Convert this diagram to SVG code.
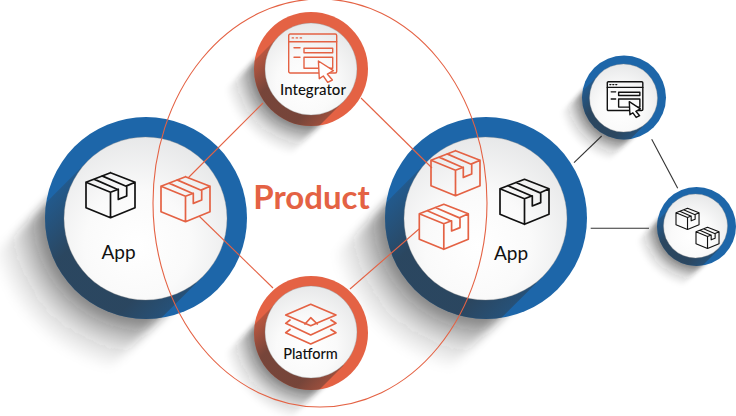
<svg xmlns="http://www.w3.org/2000/svg" width="736" height="416" viewBox="0 0 736 416">
<style>
.blue{fill:#1d66a9}
.org{fill:#e46244}
.inner{fill:url(#face);stroke:#8a8a8a;stroke-opacity:.35;stroke-width:1}
.band{fill:url(#long);clip-path:url(#unit)}
.halo{fill:url(#fade);filter:url(#soft)}
.io{fill:none;stroke:#e46244;stroke-width:1.7;stroke-linejoin:round;stroke-linecap:round}
.ib{fill:none;stroke:#111;stroke-width:1.7;stroke-linejoin:round;stroke-linecap:round}
.conn-o{stroke:#e46244;stroke-width:1.1;fill:none}
.conn-k{stroke:#333;stroke-width:1.1;fill:none}
text{font-family:Lato,"Open Sans","Liberation Sans",sans-serif;text-anchor:middle;fill:#111}
.app{font-size:19px}
.lab{font-size:15px;font-weight:500}
</style>
<defs>
<radialGradient id="face" cx=".45" cy=".66" r=".72">
<stop offset="0" stop-color="#fff"/><stop offset=".45" stop-color="#fafafa"/><stop offset="1" stop-color="#e4e5e6"/>
</radialGradient>
<linearGradient id="long" gradientUnits="userSpaceOnUse" x1="-.8" y1="0" x2=".8" y2="0">
<stop offset="0" stop-color="#333" stop-opacity=".25"/>
<stop offset=".3" stop-color="#333" stop-opacity=".62"/>
<stop offset=".8" stop-color="#333" stop-opacity=".62"/>
<stop offset="1" stop-color="#333" stop-opacity=".42"/>
</linearGradient>
<radialGradient id="fade" gradientUnits="userSpaceOnUse" cx="0" cy="0" r="1.55">
<stop offset=".645" stop-color="#222" stop-opacity=".55"/>
<stop offset=".74" stop-color="#222" stop-opacity=".32"/>
<stop offset=".86" stop-color="#222" stop-opacity=".12"/>
<stop offset="1" stop-color="#222" stop-opacity="0"/>
</radialGradient>
<filter id="soft" x="-.2" y="-.2" width="1.4" height="1.4"><feGaussianBlur stdDeviation=".05"/></filter>
<clipPath id="unit"><circle cx="0" cy="0" r="1"/></clipPath>
<g id="shade">
<rect class="halo" x="-.8" y="0" width="1.6" height="1.6"/>
</g>
<g id="box">
<path d="M24.500 0L49 9.500V35L24.500 45L0 35V9.500L24.500 19.500V45M24.500 19.500L32.300 16.500M40.700 13.200L49 9.500M24.500 0L0 9.500M8 6.400L32.300 17V26.700L40.700 23.300V13.800L16 3.200"/>
</g>
<g id="browser">
<rect x="0" y="0" width="48" height="39" rx="1.500"/>
<path d="M0 7.700H48M3.500 3.900H4.800M7.500 3.900H8.800M11.500 3.900H12.800M5.300 13.700H11.300M5.300 23.300H11.300"/>
<rect x="15.300" y="14.300" width="28.700" height="4.400"/>
<rect x="15.300" y="23.300" width="28.700" height="11"/>
<path style="fill:#fff" d="M29.700 27L44.700 36.700L38.600 40L43.700 46L39 48.300L34.600 42L30.600 44.700Z"/>
</g>
</defs>

<g id="integrator">
<g transform="translate(311 69) rotate(45) scale(57)"><use href="#shade"/></g>
<circle class="org" cx="311" cy="69" r="57"/>
<g transform="translate(311 69) rotate(45) scale(57)"><rect class="band" x="-.807" y="0" width="1.614" height="1.05"/></g>
<circle class="inner" cx="311" cy="69" r="46"/>
<use href="#browser" class="io" style="stroke-width:1.400" transform="translate(288.700 34)"/>
<text class="lab" x="313" y="95">Integrator</text>
</g>

<g id="app-left">
<g transform="translate(146 218) rotate(45) scale(101)"><use href="#shade"/></g>
<circle class="blue" cx="146" cy="218" r="101"/>
<g transform="translate(146 218) rotate(45) scale(101)"><rect class="band" x="-.807" y="0" width="1.614" height="1.05"/></g>
<circle class="inner" cx="145.500" cy="218.500" r="81.500"/>
<use href="#box" class="ib" transform="translate(86 172.700)"/>
<use href="#box" class="io" transform="translate(161 176.700)"/>
<text class="app" x="118.500" y="259">App</text>
</g>

<g id="app-right">
<g transform="translate(486 218) rotate(45) scale(101)"><use href="#shade"/></g>
<circle class="blue" cx="486" cy="218" r="101"/>
<g transform="translate(486 218) rotate(45) scale(101)"><rect class="band" x="-.807" y="0" width="1.614" height="1.05"/></g>
<circle class="inner" cx="485.500" cy="218.500" r="81.500"/>
<use href="#box" class="io" transform="translate(431 150.700)"/>
<use href="#box" class="io" transform="translate(419.300 204.300)"/>
<use href="#box" class="ib" transform="translate(500 179.300)"/>
<text class="app" x="511" y="260">App</text>
</g>

<g id="platform">
<g transform="translate(311 333) rotate(45) scale(57)"><use href="#shade"/></g>
<circle class="org" cx="311" cy="333" r="57"/>
<g transform="translate(311 333) rotate(45) scale(57)"><rect class="band" x="-.807" y="0" width="1.614" height="1.05"/></g>
<circle class="inner" cx="311" cy="332" r="46"/>
<g class="io">
<path d="M310.700 304.300L336 315L310.700 325.700L285.700 315Z"/>
<path d="M305 324L310.700 317.700L317.300 324"/>
<path d="M290 320L285.700 323.300L310.700 335L336 323.300L331 320"/>
<path d="M290 329.500L285.700 332.700L310.700 344L336 332.700L331 329.500"/>
</g>
<text class="lab" x="310.500" y="359" style="font-size:14.500px">Platform</text>
</g>

<g id="node-integrators-small">
<g transform="translate(624 97.500) rotate(45) scale(42)"><use href="#shade"/></g>
<circle class="blue" cx="624" cy="97.500" r="42"/>
<g transform="translate(624 97.500) rotate(45) scale(42)"><rect class="band" x="-.807" y="0" width="1.614" height="1.05"/></g>
<circle class="inner" cx="623.500" cy="98" r="34"/>
<use href="#browser" class="ib" style="stroke-width:1.900" transform="translate(607.300 81.700) scale(.74)"/>
</g>

<g id="node-products-small">
<g transform="translate(696.500 226.500) rotate(45) scale(39.500)"><use href="#shade"/></g>
<circle class="blue" cx="696.500" cy="226.500" r="39.500"/>
<g transform="translate(696.500 226.500) rotate(45) scale(39.500)"><rect class="band" x="-.807" y="0" width="1.614" height="1.05"/></g>
<circle class="inner" cx="695.500" cy="226" r="32"/>
<use href="#box" class="ib" style="stroke-width:2.400" transform="translate(676 208.300) scale(.47)"/>
<use href="#box" class="ib" style="stroke-width:2.400" transform="translate(696 227.300) scale(.47)"/>
</g>

<g id="connectors">
<path class="conn-o" d="M263 103L188 178"/>
<path class="conn-o" d="M199 216L273 288"/>
<path class="conn-o" d="M361 98L432 168"/>
<path class="conn-o" d="M419 229L350 289"/>
<path class="conn-k" d="M601.700 136L574 162.700"/>
<path class="conn-k" d="M651.700 139.300L677.700 188.300"/>
<path class="conn-k" d="M590.700 228.300H649"/>
</g>

<g id="product">
<ellipse cx="320" cy="203" rx="167" ry="204" fill="none" stroke="#e46244" stroke-width="1.100"/>
<text x="311.500" y="209" style="font-size:33px;font-weight:700;fill:#e46244">Product</text>
</g>
</svg>
